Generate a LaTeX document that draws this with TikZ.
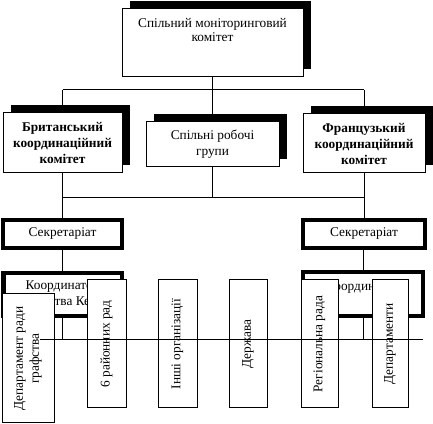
\documentclass[tikz,border=0pt]{standalone}
\usepackage{fontspec}
\setmainfont{Liberation Serif}
\usetikzlibrary{shadows}
\pgfdeclarelayer{back}
\pgfsetlayers{back,main}
\tikzset{
  shadowbox/.style={draw, fill=white, line width=0.75pt, align=center,
    general shadow={fill=black, shadow xshift=6pt, shadow yshift=6pt}},
  thickbox/.style={draw, fill=white, line width=3pt, align=center},
  vbox/.style={draw, fill=white, line width=0.75pt, rotate=90, align=center,
    minimum width=96pt},
  wire/.style={line width=0.75pt}
}

\begin{document}
\begin{tikzpicture}[x=0.75pt, y=-0.75pt]
\useasboundingbox (0,0) rectangle (433,424);
\node[shadowbox, minimum width=135.75pt, minimum height=51pt] (mon) at (212.5,43) {};
\node[align=center, font=\linespread{0.9}\selectfont] (monText) at (212.5,30) {Спільний моніторинговий\\комітет};
\node[shadowbox, minimum width=89.25pt, minimum height=45pt, font=\bfseries] (brit) at (62.5,143) {Британський\\координаційний\\комітет};
\node[shadowbox, minimum width=99.75pt, minimum height=33.75pt] (grp) at (212.5,144.5) {Спільні робочі\\групи};
\node[shadowbox, minimum width=91.5pt, minimum height=44.25pt, font=\bfseries] (fr) at (364,143.5) {Французький\\координаційний\\комітет};
\node[thickbox, minimum width=88.9pt, minimum height=21pt] (sekL) at (62.5,234) {Секретаріат};
\node[thickbox, minimum width=91.5pt, minimum height=21pt] (sekR) at (364,234) {Секретаріат};
\node[thickbox, minimum width=88.5pt, minimum height=32.6pt] (kooL) at (62.5,294.75) {Координатор\\графства Кент};
\node[thickbox, minimum width=90pt, minimum height=33pt] (kooR) at (363,294) {};
\node (kooRText) at (363,288) {Координатор};
\node[vbox, minimum width=96.75pt, minimum height=39pt] (dep) at (28,358.5) {Департамент ради\\графства};
\node[vbox, minimum height=29.25pt] (rai) at (106.5,344) {6 районних рад};
\node[vbox, minimum height=29.25pt] (inshi) at (177.5,344) {Інші організації};
\node[vbox, minimum height=28.5pt] (derzh) at (248,344) {Держава};
\node[vbox, minimum height=27.75pt] (reg) at (319.5,344) {Регіональна рада};
\node[vbox, minimum height=27pt] (deps) at (390,344) {Департаменти};
\begin{pgfonlayer}{back}
\coordinate (topbus) at (0,90);
\coordinate (midbus) at (0,197.5);
\draw[wire] (mon.south) -- (mon.south |- topbus);
\draw[wire] (brit.north |- topbus) -- (fr.north |- topbus);
\draw[wire] (brit.north |- topbus) -- (brit.north);
\draw[wire] (grp.north |- topbus) -- (grp.north);
\draw[wire] (fr.north |- topbus) -- (fr.north);
\draw[wire] (brit.south) -- (brit.south |- sekL.north);
\draw[wire] (brit.south |- midbus) -- (fr.south |- midbus);
\draw[wire] (grp.south) -- (grp.south |- midbus);
\draw[wire] (fr.south) -- (fr.south |- sekR.north);
\draw[wire] (sekL.south) -- (sekL.south |- kooL.north);
\draw[wire] (kooR.north |- sekR.south) -- (kooR.north);
\end{pgfonlayer}
\coordinate (lowL) at (40,340);
\coordinate (lowR) at (423,340);
\draw[wire] (lowL) -- (lowR);
\draw[wire] (kooL.south) -- (kooL.south |- lowL);
\draw[wire] (kooR.south) -- (kooR.south |- lowL);
\end{tikzpicture}
\end{document}
